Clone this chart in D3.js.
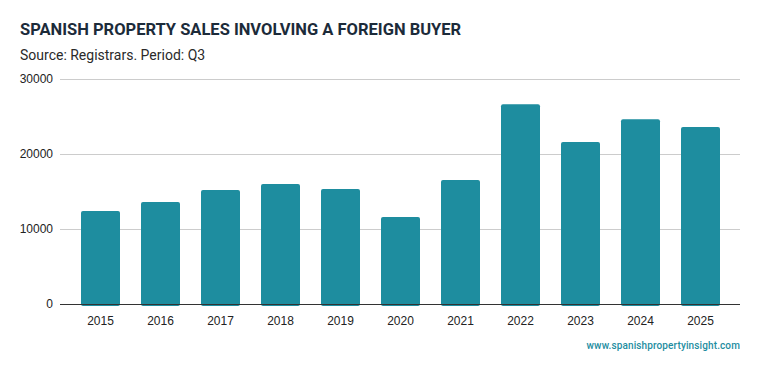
<!DOCTYPE html>
<html>
<head>
<meta charset="utf-8">
<script src="https://cdn.jsdelivr.net/npm/d3@7"></script>
<style>
  body { margin: 0; background: #fff; }
  svg { display: block; }
</style>
</head>
<body>
<div id="chart"></div>
<script>
"use strict";

var years = ["2015", "2016", "2017", "2018", "2019", "2020", "2021", "2022", "2023", "2024", "2025"];
var sales = [12400, 13600, 15200, 16000, 15350, 11600, 16550, 26650, 21600, 24650, 23600];
var yTicks = [0, 10000, 20000, 30000];

var width = 759, height = 371;
var margin = {top: 79, right: 19, bottom: 67, left: 60};

var svg = d3.select("#chart").append("svg")
    .attr("width", width)
    .attr("height", height);

svg.append("text")
    .attr("x", 20).attr("y", 35)
    .attr("font-family", "Roboto, sans-serif")
    .attr("font-weight", "bold")
    .attr("font-size", "16.5px")
    .attr("fill", "#1c2b3a")
    .text("SPANISH PROPERTY SALES INVOLVING A FOREIGN BUYER");

svg.append("text")
    .attr("x", 20).attr("y", 60)
    .attr("font-family", "Roboto, sans-serif")
    .attr("font-size", "14px")
    .attr("fill", "#2a2a2a")
    .text("Source: Registrars. Period: Q3");

var x = d3.scaleBand()
    .domain(years)
    .range([margin.left + 10.5, width - margin.right - 9.5])
    .paddingInner(0.35)
    .paddingOuter(0.175);

var y = d3.scaleLinear()
    .domain([0, 30000])
    .range([height - margin.bottom, margin.top]);

var plot = svg.append("g");

// grid lines
plot.selectAll(".grid")
    .data(yTicks.slice(1))
    .enter().append("line")
        .attr("class", "grid")
        .attr("x1", margin.left)
        .attr("x2", width - margin.right)
        .attr("y1", function(d) { return Math.round(y(d)) + 0.5; })
        .attr("y2", function(d) { return Math.round(y(d)) + 0.5; })
        .attr("stroke", "#cccccc")
        .attr("stroke-width", 1);

// y labels
plot.selectAll(".ylab")
    .data(yTicks)
    .enter().append("text")
        .attr("class", "ylab")
        .attr("x", margin.left - 7)
        .attr("y", function(d) { return y(d); })
        .attr("dy", "0.35em")
        .attr("text-anchor", "end")
        .attr("font-family", "Liberation Sans, Arial, sans-serif")
        .attr("font-size", "12px")
        .attr("fill", "#222")
        .text(function(d) { return d; });

// bars
plot.selectAll(".bar")
    .data(sales)
    .enter().append("rect")
        .attr("class", "bar")
        .attr("x", function(d, i) { return x(years[i]); })
        .attr("width", x.bandwidth())
        .attr("y", function(d) { return y(d); })
        .attr("height", function(d) { return y(0) - y(d) + 2; })
        .attr("rx", 2)
        .attr("fill", "#1e8d9f");

// baseline
plot.append("line")
    .attr("x1", margin.left)
    .attr("x2", width - margin.right)
    .attr("y1", y(0) + 0.5)
    .attr("y2", y(0) + 0.5)
    .attr("stroke", "#333")
    .attr("stroke-width", 1);

// x labels
var xAxis = d3.axisBottom(x).tickSize(0).tickPadding(12);
var gx = svg.append("g")
    .attr("transform", "translate(0," + y(0) + ")")
    .call(xAxis);
gx.select(".domain").remove();
gx.selectAll("text")
    .attr("font-family", "Liberation Sans, Arial, sans-serif")
    .attr("font-size", "12px")
    .attr("fill", "#222");

svg.append("text")
    .attr("x", width - margin.right)
    .attr("y", 349)
    .attr("text-anchor", "end")
    .attr("font-family", "Roboto, sans-serif")
    .attr("font-weight", "500")
    .attr("font-size", "10px")
    .attr("letter-spacing", "0.12px")
    .attr("fill", "#1e8d9f")
    .text("www.spanishpropertyinsight.com");
</script>
</body>
</html>
